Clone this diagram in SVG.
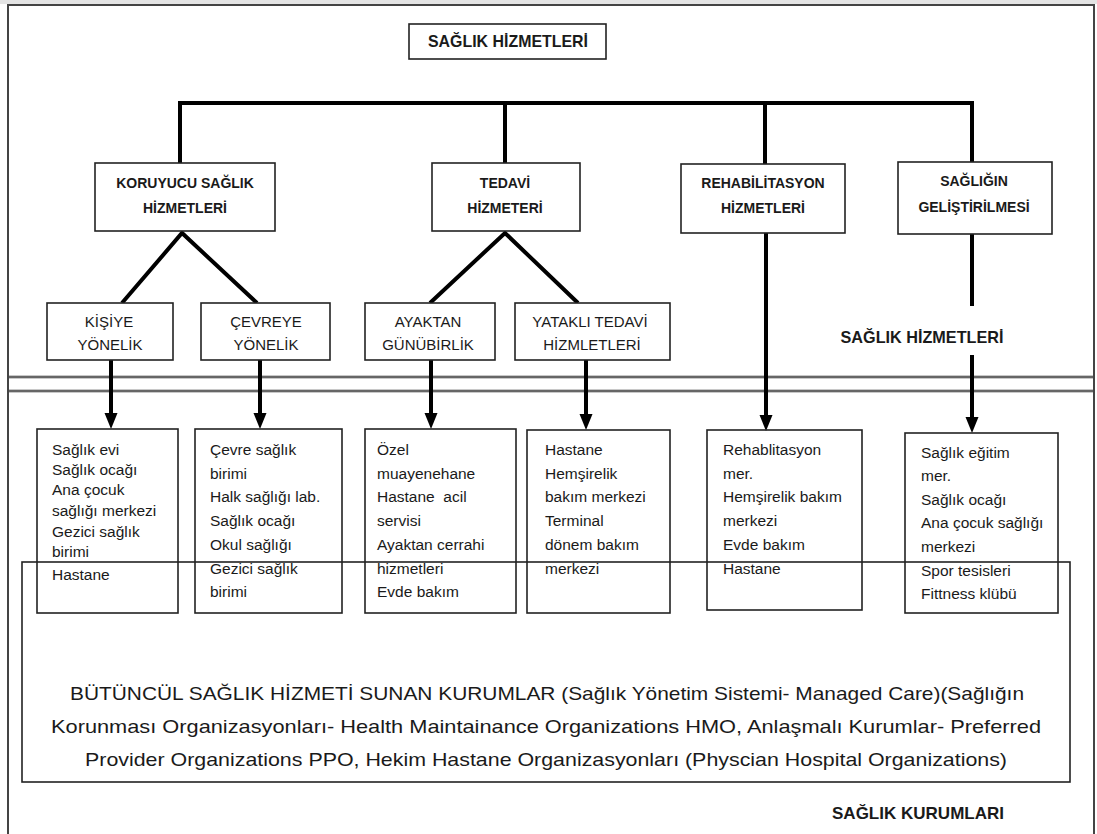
<svg xmlns="http://www.w3.org/2000/svg" width="1097" height="834" viewBox="0 0 1097 834">
  <style>
    .frame { fill: #ffffff; stroke: #444444; stroke-width: 2; }
    .box { fill: #ffffff; stroke: #222222; stroke-width: 1.6; }
    .open { fill: none; stroke: #222222; stroke-width: 1.6; }
    .conn { fill: none; stroke: #000000; stroke-width: 4; stroke-linecap: butt; }
    .head-arrow { fill: #000000; stroke: none; }
    .sep { fill: none; stroke: #666666; stroke-width: 2; }
    .sepHalo { fill: none; stroke: #c8c8c8; stroke-width: 4; }
    .head { font-family: "Liberation Sans", Arial, sans-serif; font-weight: bold; font-size: 14px; fill: #1a1a1a; text-anchor: middle; }
    .title { font-family: "Liberation Sans", Arial, sans-serif; font-weight: bold; font-size: 17px; fill: #1a1a1a; text-anchor: middle; }
    .sub { font-family: "Liberation Sans", Arial, sans-serif; font-size: 15px; fill: #1a1a1a; text-anchor: middle; }
    .item { font-family: "Liberation Sans", Arial, sans-serif; font-size: 15.5px; fill: #1a1a1a; }
    .big { font-family: "Liberation Sans", Arial, sans-serif; font-size: 19px; fill: #1a1a1a; text-anchor: middle; }
  </style>
  <defs>
    <!-- downward arrowhead, tip at (0,0) -->
    <path id="ah" d="M-6.5,-16 L6.5,-16 L0,0 Z"/>
  </defs>

  <!-- page background and outer frame -->
  <rect x="0" y="0" width="1097" height="834" fill="#ffffff"/>
  <rect x="0" y="0" width="1097" height="4" fill="#e4e4e4"/>
  <rect class="frame" x="8" y="5" width="1086" height="840"/>

  <!-- double separator line -->
  <g id="separator">
    <line class="sepHalo" x1="9" y1="377" x2="1093" y2="377"/>
    <line class="sepHalo" x1="9" y1="391" x2="1093" y2="391"/>
    <line class="sep" x1="9" y1="377" x2="1093" y2="377"/>
    <line class="sep" x1="9" y1="391" x2="1093" y2="391"/>
  </g>

  <!-- large institutions box -->
  <g id="institutions">
    <rect class="open" x="22" y="562" width="1048" height="220"/>
    <text class="big" x="547" y="700" textLength="954" lengthAdjust="spacingAndGlyphs">BÜTÜNCÜL SAĞLIK HİZMETİ SUNAN KURUMLAR (Sağlık Yönetim Sistemi- Managed Care)(Sağlığın</text>
    <text class="big" x="546" y="733" textLength="990" lengthAdjust="spacingAndGlyphs">Korunması Organizasyonları- Health Maintainance Organizations HMO, Anlaşmalı Kurumlar- Preferred</text>
    <text class="big" x="546" y="766" textLength="922" lengthAdjust="spacingAndGlyphs">Provider Organizations PPO, Hekim Hastane Organizasyonları (Physcian Hospital Organizations)</text>
  </g>

  <!-- connectors -->
  <g id="connectors">
    <path class="conn" d="M178,103 H974" stroke-width="5"/>
    <path class="conn" d="M180,101 V163"/>
    <path class="conn" d="M505,101 V163"/>
    <path class="conn" d="M765,101 V164"/>
    <path class="conn" d="M972,101 V162"/>
    <!-- branches -->
    <path class="conn" d="M122,303 L182,233 L257,303"/>
    <path class="conn" d="M430,303 L505,233 L578,303"/>
    <!-- arrows to the lists -->
    <path class="conn" d="M111,360 V416"/>
    <use href="#ah" class="head-arrow" x="111" y="429"/>
    <path class="conn" d="M260,360 V416"/>
    <use href="#ah" class="head-arrow" x="260" y="429"/>
    <path class="conn" d="M431,360 V416"/>
    <use href="#ah" class="head-arrow" x="431" y="429"/>
    <path class="conn" d="M586,360 V417"/>
    <use href="#ah" class="head-arrow" x="586" y="430"/>
    <path class="conn" d="M766,233 V418"/>
    <use href="#ah" class="head-arrow" x="766" y="431"/>
    <path class="conn" d="M972,234 V306"/>
    <path class="conn" d="M972,355 V420"/>
    <use href="#ah" class="head-arrow" x="972" y="433"/>
  </g>

  <!-- top node -->
  <g id="n-saglik-hizmetleri">
    <rect class="box" x="409" y="24" width="197" height="35"/>
    <text class="title" x="508" y="47" textLength="160" lengthAdjust="spacingAndGlyphs">SAĞLIK HİZMETLERİ</text>
  </g>

  <!-- main categories -->
  <g id="n-koruyucu">
    <rect class="box" x="95" y="163" width="180" height="68"/>
    <text class="head" x="185" y="188">KORUYUCU SAĞLIK</text>
    <text class="head" x="185" y="213">HİZMETLERİ</text>
  </g>
  <g id="n-tedavi">
    <rect class="box" x="432" y="163" width="148" height="68"/>
    <text class="head" x="505" y="188">TEDAVİ</text>
    <text class="head" x="505" y="213">HİZMETERİ</text>
  </g>
  <g id="n-rehabilitasyon">
    <rect class="box" x="681" y="164" width="164" height="69"/>
    <text class="head" x="763" y="188">REHABİLİTASYON</text>
    <text class="head" x="763" y="213">HİZMETLERİ</text>
  </g>
  <g id="n-gelistirme">
    <rect class="box" x="898" y="162" width="154" height="72"/>
    <text class="head" x="974" y="186">SAĞLIĞIN</text>
    <text class="head" x="974" y="212">GELİŞTİRİLMESİ</text>
  </g>

  <!-- sub categories -->
  <g id="n-kisiye">
    <rect class="box" x="47" y="303" width="126" height="57"/>
    <text class="sub" x="109" y="327">KİŞİYE</text>
    <text class="sub" x="110" y="350">YÖNELİK</text>
  </g>
  <g id="n-cevreye">
    <rect class="box" x="201" y="303" width="129" height="57"/>
    <text class="sub" x="266" y="327">ÇEVREYE</text>
    <text class="sub" x="266" y="350">YÖNELİK</text>
  </g>
  <g id="n-ayaktan">
    <rect class="box" x="365" y="303" width="130" height="57"/>
    <text class="sub" x="428" y="327">AYAKTAN</text>
    <text class="sub" x="428" y="350">GÜNÜBİRLİK</text>
  </g>
  <g id="n-yatakli">
    <rect class="box" x="515" y="303" width="155" height="57"/>
    <text class="sub" x="590" y="327">YATAKLI TEDAVİ</text>
    <text class="sub" x="592" y="350">HİZMLETLERİ</text>
  </g>

  <!-- side label -->
  <g id="n-label-hizmetler">
    <text class="title" x="922" y="343" textLength="163" lengthAdjust="spacingAndGlyphs">SAĞLIK HİZMETLERİ</text>
  </g>

  <!-- institution lists -->
  <g id="list-kisiye">
    <rect class="open" x="37" y="429" width="141" height="184"/>
    <text class="item" x="52" y="455">Sağlık evi</text>
    <text class="item" x="52" y="475">Sağlık ocağı</text>
    <text class="item" x="52" y="495">Ana çocuk</text>
    <text class="item" x="52" y="516">sağlığı merkezi</text>
    <text class="item" x="52" y="537">Gezici sağlık</text>
    <text class="item" x="52" y="557">birimi</text>
    <text class="item" x="52" y="580">Hastane</text>
  </g>
  <g id="list-cevreye">
    <rect class="open" x="195" y="429" width="147" height="184"/>
    <text class="item" x="210" y="455">Çevre sağlık</text>
    <text class="item" x="210" y="479">birimi</text>
    <text class="item" x="210" y="502">Halk sağlığı lab.</text>
    <text class="item" x="210" y="526">Sağlık ocağı</text>
    <text class="item" x="210" y="550">Okul sağlığı</text>
    <text class="item" x="210" y="574">Gezici sağlık</text>
    <text class="item" x="210" y="597">birimi</text>
  </g>
  <g id="list-ayaktan">
    <rect class="open" x="365" y="429" width="151" height="184"/>
    <text class="item" x="377" y="455">Özel</text>
    <text class="item" x="377" y="479">muayenehane</text>
    <text class="item" x="377" y="502" xml:space="preserve">Hastane  acil</text>
    <text class="item" x="377" y="526">servisi</text>
    <text class="item" x="377" y="550">Ayaktan cerrahi</text>
    <text class="item" x="377" y="574">hizmetleri</text>
    <text class="item" x="377" y="597">Evde bakım</text>
  </g>
  <g id="list-yatakli">
    <rect class="open" x="527" y="430" width="143" height="183"/>
    <text class="item" x="545" y="455">Hastane</text>
    <text class="item" x="545" y="479">Hemşirelik</text>
    <text class="item" x="545" y="502">bakım merkezi</text>
    <text class="item" x="545" y="526">Terminal</text>
    <text class="item" x="545" y="550">dönem bakım</text>
    <text class="item" x="545" y="574">merkezi</text>
  </g>
  <g id="list-rehabilitasyon">
    <rect class="open" x="707" y="430" width="155" height="180"/>
    <text class="item" x="723" y="455">Rehablitasyon</text>
    <text class="item" x="723" y="479">mer.</text>
    <text class="item" x="723" y="502">Hemşirelik bakım</text>
    <text class="item" x="723" y="526">merkezi</text>
    <text class="item" x="723" y="550">Evde bakım</text>
    <text class="item" x="723" y="574">Hastane</text>
  </g>
  <g id="list-gelistirme">
    <rect class="open" x="905" y="433" width="153" height="180"/>
    <text class="item" x="921" y="458">Sağlık eğitim</text>
    <text class="item" x="921" y="481">mer.</text>
    <text class="item" x="921" y="505">Sağlık ocağı</text>
    <text class="item" x="921" y="528">Ana çocuk sağlığı</text>
    <text class="item" x="921" y="552">merkezi</text>
    <text class="item" x="921" y="576">Spor tesisleri</text>
    <text class="item" x="921" y="599">Fittness klübü</text>
  </g>

  <!-- bottom caption -->
  <g id="n-label-kurumlar">
    <text class="title" x="918" y="819" textLength="172" lengthAdjust="spacingAndGlyphs">SAĞLIK KURUMLARI</text>
  </g>
</svg>
